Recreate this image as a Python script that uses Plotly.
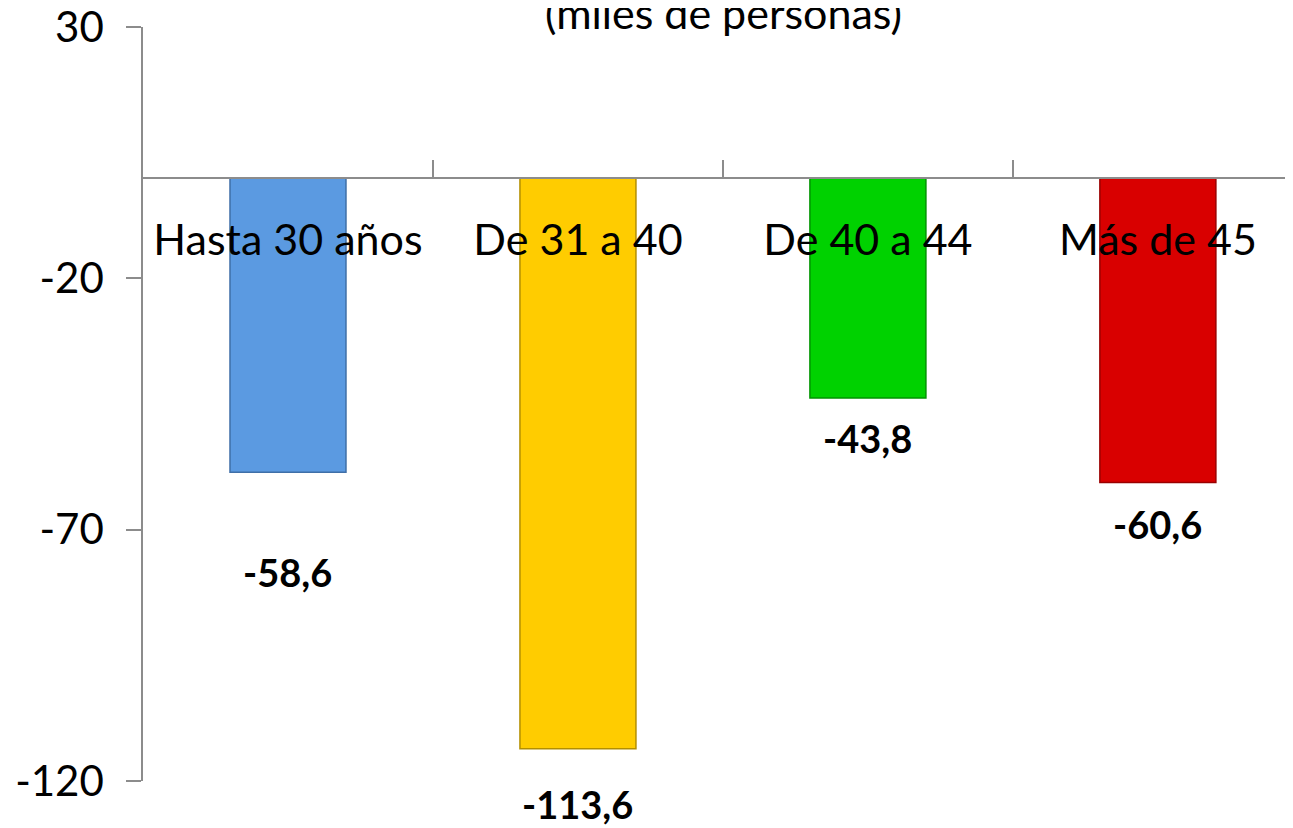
import plotly.graph_objects as go

# ---- data ----
categories = ["Hasta 30 años", "De 31 a 40", "De 40 a 44", "Más de 45"]
values = [-58.6, -113.6, -43.8, -60.6]
y_ticks = [-120, -70, -20, 30]
y_tick_labels = ["-120", "-70", "-20", "30"]
title_text = "(miles de personas)"

# ---- styles ----
bar_colors = ["#5B9AE1", "#FFCC00", "#00D200", "#D90000"]
bar_edges = ["#3F6FA8", "#B38F00", "#009400", "#9A0000"]
label_shift = [-100, -55, -40, -42]  # manual label offsets (px) like the source

FONT = "Lato"
GRAY = "#8C8C8C"

fig = go.Figure()
fig.add_trace(go.Bar(
    x=categories, y=values, width=0.4,
    marker=dict(color=bar_colors, line=dict(color=bar_edges, width=1.5)),
    hoverinfo="skip",
))

for c, v, s in zip(categories, values, label_shift):
    fig.add_annotation(
        x=c, y=v, xref="x", yref="y", yanchor="middle", yshift=s,
        text="<b>" + f"{v:.1f}".replace(".", ",") + "</b>",
        showarrow=False, font=dict(family=FONT, size=38, color="black"),
    )

fig.add_annotation(
    x=0.505, y=1, xref="paper", yref="paper", xanchor="center", yanchor="bottom",
    yshift=-13, text=title_text, showarrow=False,
    font=dict(family=FONT, size=43, color="black"),
)

fig.update_layout(
    width=1285, height=820,
    margin=dict(l=135, r=0, t=19, b=47, autoexpand=False),
    paper_bgcolor="white", plot_bgcolor="white",
    showlegend=False,
    font=dict(family=FONT, color="black"),
    xaxis=dict(
        range=[-0.5, 3.466], anchor="free", position=0.8,
        showline=True, linecolor=GRAY, linewidth=1.5,
        ticks="inside", tickson="boundaries", ticklen=17, tickcolor=GRAY, tickwidth=1.5,
        showgrid=False, zeroline=False, automargin=False,
        tickfont=dict(family=FONT, size=43, color="black"),
        ticklabelstandoff=25,
    ),
    yaxis=dict(
        range=[-120, 30], tickvals=y_ticks, ticktext=y_tick_labels,
        showline=True, linecolor=GRAY, linewidth=1.5,
        ticks="outside", ticklen=15, tickcolor=GRAY, tickwidth=1.5,
        showgrid=False, zeroline=False, automargin=False,
        tickfont=dict(family=FONT, size=42, color="black"),
        ticklabelstandoff=14, ticklabeloverflow="allow",
    ),
)

fig.write_html("out.html")
